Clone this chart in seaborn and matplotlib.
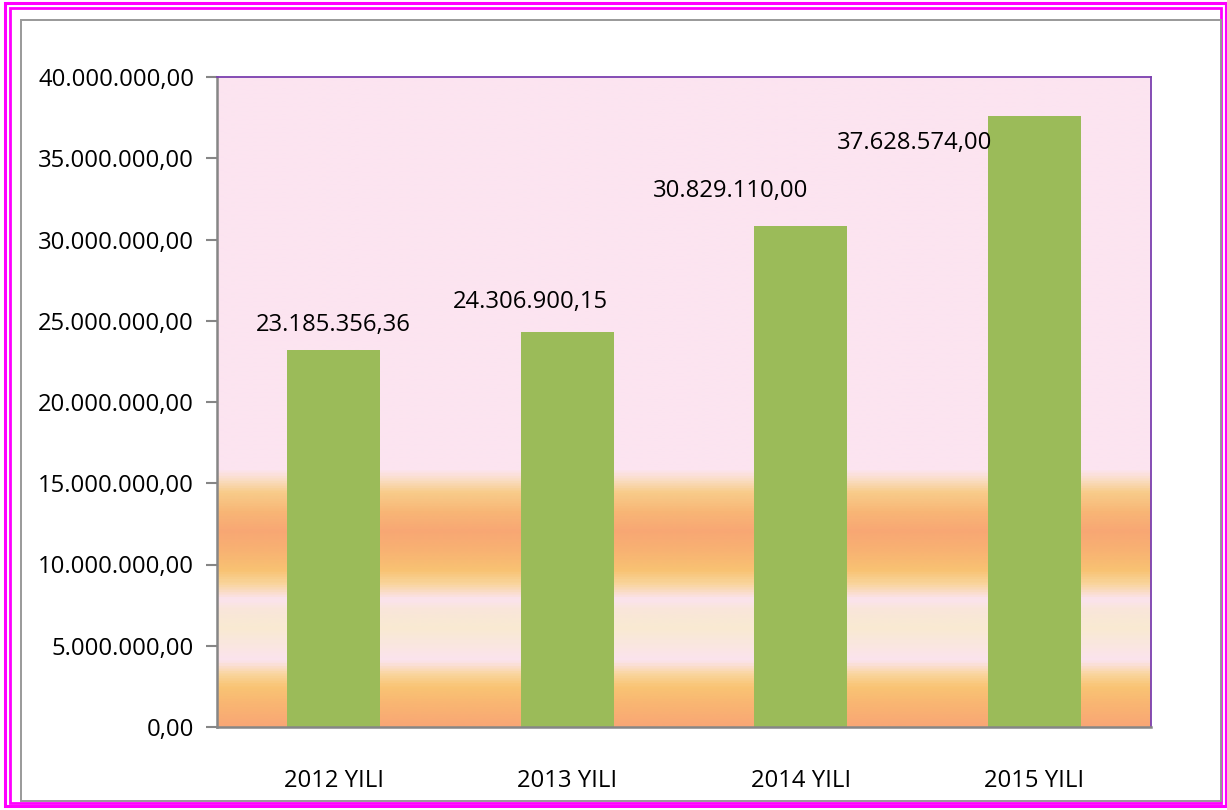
import numpy as np
import pandas as pd
import matplotlib
matplotlib.use("Agg")
import matplotlib.pyplot as plt
import seaborn as sns
from matplotlib.patches import Rectangle
from matplotlib.colors import LinearSegmentedColormap
from matplotlib.ticker import FuncFormatter

# ── data ──────────────────────────────────
years  = ["2012 YILI", "2013 YILI", "2014 YILI", "2015 YILI"]
values = [23185356.36, 24306900.15, 30829110.00, 37628574.00]
labels = ["23.185.356,36", "24.306.900,15", "30.829.110,00", "37.628.574,00"]
y_ticks = [0, 5e6, 10e6, 15e6, 20e6, 25e6, 30e6, 35e6, 40e6]

df = pd.DataFrame({"year": years, "value": values})

W, H = 1227, 810
FS = 17.2
sns.set_theme(style="white")
plt.rcParams["font.family"] = ["Open Sans", "DejaVu Sans"]

fig = plt.figure(figsize=(W / 100, H / 100), dpi=100)
ax = fig.add_axes([217 / W, 1 - 727 / H, (1151 - 217) / W, (727 - 77) / H])


def px(x0, y0, x1, y1):
    """pixel box -> figure fraction rect args"""
    return (x0 / W, 1 - y1 / H), (x1 - x0) / W, (y1 - y0) / H


# frames: magenta double border + gray inner frame
for (x0, y0, x1, y1), c, lw in [((5, 3, 1226, 806), "#FF00FF", 2.2),
                                ((10, 8, 1221, 803), "#FF00FF", 2.0),
                                ((21, 19.5, 1221, 801), "#999999", 1.4)]:
    xy, w, h = px(x0, y0, x1, y1)
    fig.add_artist(Rectangle(xy, w, h, transform=fig.transFigure,
                             fill=False, edgecolor=c, linewidth=lw))

# background gradient (bottom part), pink above
stops = [(0.00, "#F9A775"), (0.03, "#F9B472"), (0.06, "#F9C474"),
         (0.08, "#FAD6A0"), (0.10, "#FBE3EE"), (0.15, "#F9EAD2"),
         (0.18, "#F9E6DA"), (0.195, "#FBE3EE"), (0.22, "#F9D49A"),
         (0.24, "#F8C272"), (0.27, "#F8B272"), (0.30, "#F8A774"),
         (0.33, "#F8B676"), (0.36, "#F8CC8A"), (0.38, "#FADDC4"),
         (0.395, "#FCE4F0"), (1.00, "#FCE4F0")]
cmap = LinearSegmentedColormap.from_list("bg", stops)
grad = np.linspace(0, 1, 800).reshape(-1, 1)
ax.imshow(grad, cmap=cmap, aspect="auto", origin="lower",
          extent=[0, 1, 0, 1], transform=ax.transAxes, zorder=0,
          interpolation="bilinear")

sns.barplot(data=df, x="year", y="value", color="#9BBB59", width=0.4,
            saturation=1, linewidth=0, ax=ax, zorder=2)

ax.set_xlim(-0.5, 3.5)
ax.set_ylim(0, 40e6)
ax.set_yticks(y_ticks)
ax.yaxis.set_major_formatter(FuncFormatter(
    lambda v, _: f"{v:,.2f}".replace(",", "X").replace(".", ",").replace("X", ".")))
ax.set_xlabel("")
ax.set_ylabel("")
ax.tick_params(axis="y", left=True, length=8, width=1.5, color="#868686",
               labelsize=FS, pad=8.5, labelcolor="black")
ax.tick_params(axis="x", bottom=False, labelsize=FS, pad=24, labelcolor="black")

for side in ["left", "bottom"]:
    ax.spines[side].set_color("#868686")
    ax.spines[side].set_linewidth(1.8)
for side in ["top", "right"]:
    ax.spines[side].set_color("#7B3FAF")
    ax.spines[side].set_linewidth(1.3)

# data labels (offset in pixels, Excel-like placement)
offsets = [(0, 25), (-37, 30), (-70, 35), (-120, -27)]
for i, (v, lab) in enumerate(zip(values, labels)):
    ax.annotate(lab, (i, v), xytext=offsets[i], textcoords="offset pixels",
                ha="center", va="center", fontsize=FS, color="black", zorder=3)

fig.savefig("out.png", dpi=100)
